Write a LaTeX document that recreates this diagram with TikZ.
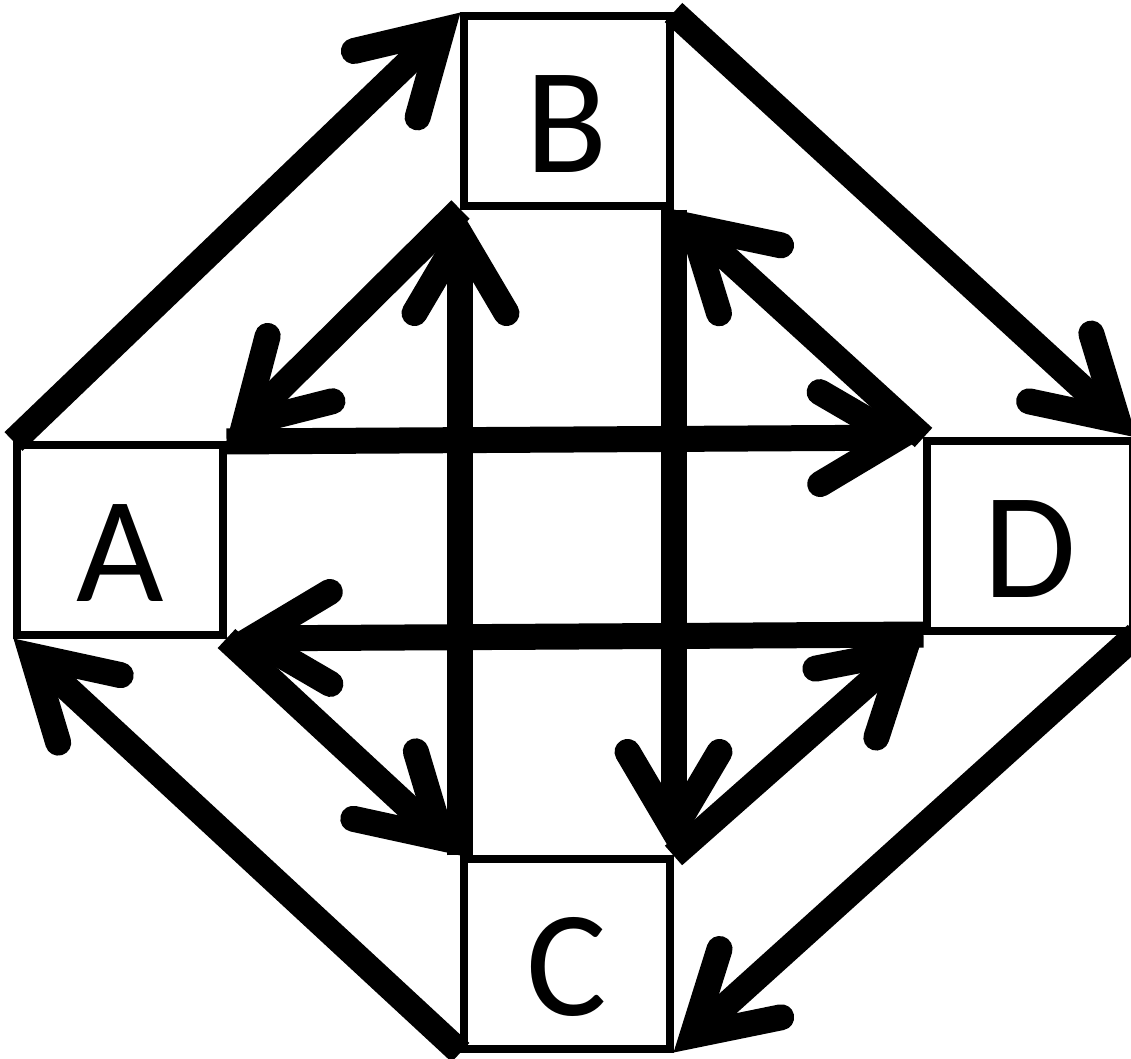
\documentclass[tikz,border=0pt]{standalone}
\usepackage{fontspec}
\newfontfamily\boxfont{Carlito}
\usetikzlibrary{arrows.meta}
\begin{document}
\begin{tikzpicture}[
    box/.style={draw, line width=2pt, minimum width=2.06cm, minimum height=1.9cm, inner sep=0pt,
      text height=1.23cm, text depth=0pt, font=\boxfont\fontsize{43}{43}\selectfont},
    flow/.style={line width=0.26cm, -{Straight Barb[length=0.78cm, width=0.92cm, line cap=round, line join=miter]}}]
  \useasboundingbox (0,0) rectangle (11.31,10.58);
  % boxes
  \node[box] (A) at (1.2,5.18) {A};
  \node[box] (B) at (5.67,9.47) {B};
  \node[box] (C) at (5.67,1.04) {C};
  \node[box] (D) at (10.3,5.22) {D};
  % outer ring
  \draw[flow] (A.north west) -- (B.north west);
  \draw[flow] (B.north east) -- (D.north east);
  \draw[flow] (D.south east) -- (C.south east);
  \draw[flow] (C.south west) -- (A.south west);
  % inner grid
  \draw[flow] (A.north east) -- (D.north west);
  \draw[flow] (D.south west) -- (A.south east);
  \draw[flow] (C.north west) -- (B.south west);
  \draw[flow] (B.south east) -- (C.north east);
  % inner diagonals
  \draw[flow] (B.south west) -- (A.north east);
  \draw[flow] (D.north west) -- (B.south east);
  \draw[flow] (A.south east) -- (C.north west);
  \draw[flow] (C.north east) -- (D.south west);
\end{tikzpicture}
\end{document}
